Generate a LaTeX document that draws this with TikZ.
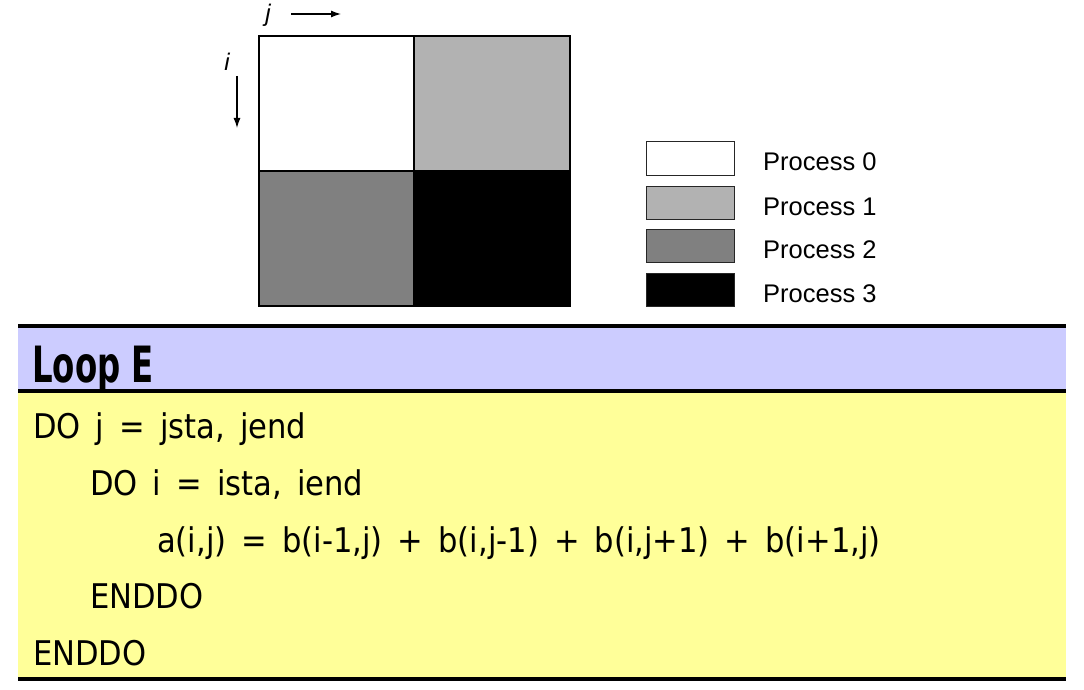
\documentclass[tikz,border=0pt]{standalone}
\usepackage{fontspec}
\usetikzlibrary{fit,arrows.meta}
\setmainfont{Liberation Sans}
\newfontfamily\codefont[WordSpace=1.55]{DejaVu Sans Condensed}
\newfontfamily\loopfont[FakeStretch=0.72]{DejaVu Sans Condensed Bold}
\definecolor{lav}{HTML}{CCCCFF}
\definecolor{yel}{HTML}{FFFF99}
\definecolor{gA}{HTML}{B2B2B2}
\definecolor{gB}{HTML}{808080}
\begin{document}
\begin{tikzpicture}[x=1pt,y=-1pt,
  cell/.style={draw=black,line width=1.2pt,inner sep=0pt,outer sep=0pt},
  legbox/.style={draw=black!85,line width=1pt,inner sep=0pt,outer sep=0pt,minimum width=88pt,minimum height=33pt,anchor=north west},
  legtxt/.style={anchor=base west,inner sep=0pt,font=\fontsize{25.5}{28}\selectfont},
  code/.style={anchor=base west,inner sep=0pt,font=\codefont\fontsize{34}{38}\selectfont},
  ax/.style={-{Latex[length=10pt,width=7pt]},line width=1.3pt},
  rule/.style={line width=3.5pt}]
\useasboundingbox (0,0) rectangle (1084,690);
% grid
\path[fill=white] (259,36) rectangle (414,171);
\path[fill=gA] (414,36) rectangle (570,171);
\path[fill=gB] (259,171) rectangle (414,306);
\path[fill=black] (414,171) rectangle (570,306);
\node[cell,fit={(259,36) (570,306)}] (grid) {};
\draw[line width=1.2pt] (414,36) -- (414,306);
\draw[line width=1.2pt] (259,171) -- (570,171);
% axes
\node[anchor=base,inner sep=0pt,font=\itshape\fontsize{24}{26}\selectfont] (jl) at (268,22) {j};
\coordinate (ja) at (291,14);
\coordinate (jb) at (341,14);
\draw[ax] (ja) -- (jb);
\node[anchor=base,inner sep=0pt,font=\itshape\fontsize{24}{26}\selectfont] (il) at (227,71) {i};
\coordinate (ia) at (237,76);
\coordinate (ib) at (237,128);
\draw[ax] (ia) -- (ib);
% legend
\node[legbox,fill=white] (l0) at (646,142) {};
\node[legbox,fill=gA] (l1) at (646,186) {};
\node[legbox,fill=gB] (l2) at (646,229) {};
\node[legbox,fill=black] (l3) at (646,273) {};
\node[legtxt] (t0) at (763,171) {Process 0};
\node[legtxt] (t1) at (763,215) {Process 1};
\node[legtxt] (t2) at (763,258) {Process 2};
\node[legtxt] (t3) at (763,302) {Process 3};
% bands
\fill[lav] (18,326) rectangle (1066,391);
\fill[yel] (18,391) rectangle (1066,679);
\draw[rule] (18,326) -- (1066,326);
\draw[rule] (18,391) -- (1066,391);
\draw[rule] (18,679) -- (1066,679);
\node[anchor=base west,inner sep=0pt,font=\loopfont\fontsize{50}{55}\selectfont] (loop) at (32,382) {Loop E};
\node[code] (c1) at (33,438) {DO j = jsta, jend};
\node[code] (c2) at (90,495) {DO i = ista, iend};
\node[code] (c3) at (157,552) {a(i,j) = b(i-1,j) + b(i,j-1) + b(i,j+1) + b(i+1,j)};
\node[code] (c4) at (90,608) {ENDDO};
\node[code] (c5) at (33,665) {ENDDO};
\end{tikzpicture}
\end{document}
